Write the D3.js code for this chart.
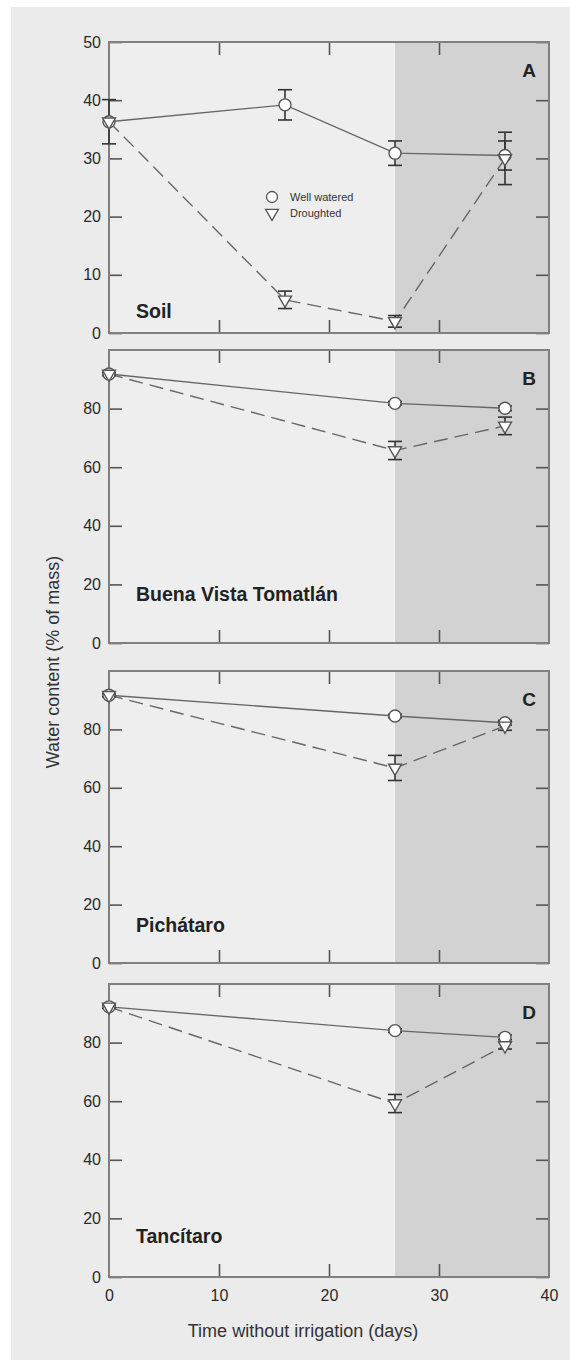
<!DOCTYPE html>
<html>
<head>
<meta charset="utf-8">
<script src="https://cdn.jsdelivr.net/npm/d3@7"></script>
<style>
  body { margin: 0; background: #fff; }
  svg { display: block; font-family: "Liberation Sans", Arial, sans-serif; }
</style>
</head>
<body>
<div id="chart"></div>
<script>
// data
const soilDays = [0, 16, 26, 36];
const soilWell = [36.3, 39.2, 30.9, 30.5];
const soilWellErr = [3.8, 2.6, 2.1, 2.5];
const soilDrought = [36.3, 5.7, 2.0, 30.0];
const soilDroughtErr = [0, 1.5, 1.0, 4.5];

const leafDays = [0, 26, 36];
const buenaWell = [91.8, 81.8, 80.1];
const buenaWellErr = [0.5, 0.6, 0.8];
const buenaDrought = [91.8, 65.7, 74.1];
const buenaDroughtErr = [0.5, 3.1, 3.0];

const pichWell = [91.7, 84.6, 82.3];
const pichWellErr = [0.5, 0.6, 0.8];
const pichDrought = [91.7, 66.8, 81.2];
const pichDroughtErr = [0.5, 4.3, 1.5];

const tancWell = [92.2, 84.1, 81.8];
const tancWellErr = [0.5, 0.6, 0.8];
const tancDrought = [92.2, 59.2, 79.0];
const tancDroughtErr = [0.5, 3.1, 1.2];

const panelNames = ["Soil", "Buena Vista Tomatlán", "Pichátaro", "Tancítaro"];
const panelLetters = ["A", "B", "C", "D"];
const seriesNames = ["Well watered", "Droughted"];
const xTicks = [0, 10, 20, 30, 40];
const soilTicks = [0, 10, 20, 30, 40, 50];
const leafTicks = [0, 20, 40, 60, 80];
const recoveryStart = 26;

const width = 570, height = 1360;
const left = 109, right = 549;

const panels = [
  {days: soilDays, well: soilWell, wellErr: soilWellErr, dr: soilDrought, drErr: soilDroughtErr,
   yMax: 50, ticks: soilTicks, top: 42, bottom: 333, nameY: 318},
  {days: leafDays, well: buenaWell, wellErr: buenaWellErr, dr: buenaDrought, drErr: buenaDroughtErr,
   yMax: 100, ticks: leafTicks, top: 350, bottom: 643, nameY: 601},
  {days: leafDays, well: pichWell, wellErr: pichWellErr, dr: pichDrought, drErr: pichDroughtErr,
   yMax: 100, ticks: leafTicks, top: 671, bottom: 963, nameY: 932},
  {days: leafDays, well: tancWell, wellErr: tancWellErr, dr: tancDrought, drErr: tancDroughtErr,
   yMax: 100, ticks: leafTicks, top: 984, bottom: 1277, nameY: 1243}
];

const svg = d3.select("#chart").append("svg")
  .attr("width", width)
  .attr("height", height);

svg.append("rect")
  .attr("x", 11).attr("y", 7)
  .attr("width", width - 11).attr("height", height - 7)
  .attr("fill", "#ebebeb");

const x = d3.scaleLinear().domain([0, 40]).range([left, right]);

const triangle = d3.symbol().type(d3.symbolTriangle).size(72);

function styleAxis(g){
  g.select(".domain").remove();
  g.selectAll(".tick line").attr("stroke", "#555").attr("stroke-width", 1.6);
  g.selectAll(".tick text").attr("fill", "#2a2a2a").style("font-size", "16px");
}

panels.forEach((p, i) => {
  const y = d3.scaleLinear().domain([0, p.yMax]).range([p.bottom, p.top]);
  const g = svg.append("g");

  g.append("rect")
    .attr("x", left).attr("y", p.top)
    .attr("width", right - left).attr("height", p.bottom - p.top)
    .attr("fill", "#eeeeee");
  g.append("rect")
    .attr("x", x(recoveryStart)).attr("y", p.top)
    .attr("width", x(40) - x(recoveryStart)).attr("height", p.bottom - p.top)
    .attr("fill", "#d2d2d2");

  g.append("g").attr("transform", `translate(${left},0)`)
    .call(d3.axisLeft(y).tickValues(p.ticks).tickSize(-13).tickSizeOuter(0).tickPadding(8))
    .call(styleAxis);
  g.append("g").attr("transform", `translate(${right},0)`)
    .call(d3.axisRight(y).tickValues(p.ticks).tickSize(-13).tickSizeOuter(0).tickFormat(""))
    .call(styleAxis);
  g.append("g").attr("transform", `translate(0,${p.top})`)
    .call(d3.axisTop(x).tickValues([10, 20, 30]).tickSize(-13).tickSizeOuter(0).tickFormat(""))
    .call(styleAxis);
  const bx = g.append("g").attr("transform", `translate(0,${p.bottom})`)
    .call(d3.axisBottom(x).tickValues(i === 3 ? xTicks : [10, 20, 30]).tickSize(-13).tickSizeOuter(0).tickPadding(13))
    .call(styleAxis);
  if (i !== 3) bx.selectAll(".tick text").remove();
  else bx.selectAll(".tick line").filter(d => d === 0 || d === 40).remove();

  g.append("rect")
    .attr("x", left).attr("y", p.top)
    .attr("width", right - left).attr("height", p.bottom - p.top)
    .attr("fill", "none").attr("stroke", "#808080").attr("stroke-width", 2);

  const wellPts = p.days.map((d, k) => ({d: d, v: p.well[k], e: p.wellErr[k]}));
  const drPts = p.days.map((d, k) => ({d: d, v: p.dr[k], e: p.drErr[k]}));

  const line = d3.line().x(d => x(d.d)).y(d => y(d.v));
  g.append("path").datum(drPts)
    .attr("d", line).attr("fill", "none")
    .attr("stroke", "#666").attr("stroke-width", 1.4)
    .attr("stroke-dasharray", "14,7");
  g.append("path").datum(wellPts)
    .attr("d", line).attr("fill", "none")
    .attr("stroke", "#666").attr("stroke-width", 1.4);

  const errPts = wellPts.concat(drPts).filter(d => d.e > 0);
  const eb = g.selectAll(".err").data(errPts).enter().append("g")
    .attr("stroke", "#333").attr("stroke-width", 1.6);
  eb.append("line")
    .attr("x1", d => x(d.d)).attr("x2", d => x(d.d))
    .attr("y1", d => y(d.v - d.e)).attr("y2", d => y(d.v + d.e));
  eb.append("line")
    .attr("x1", d => x(d.d) - 7).attr("x2", d => x(d.d) + 7)
    .attr("y1", d => y(d.v + d.e)).attr("y2", d => y(d.v + d.e));
  eb.append("line")
    .attr("x1", d => x(d.d) - 7).attr("x2", d => x(d.d) + 7)
    .attr("y1", d => y(d.v - d.e)).attr("y2", d => y(d.v - d.e));

  g.selectAll(".wc").data(wellPts).enter().append("circle")
    .attr("cx", d => x(d.d)).attr("cy", d => y(d.v)).attr("r", 6)
    .attr("fill", "#fff").attr("stroke", "#555").attr("stroke-width", 1.4);
  g.selectAll(".dt").data(drPts).enter().append("path")
    .attr("d", triangle)
    .attr("transform", d => `translate(${x(d.d)},${y(d.v)}) rotate(180)`)
    .attr("fill", "#fff").attr("stroke", "#555").attr("stroke-width", 1.4);

  g.append("text")
    .attr("x", right - 13).attr("y", p.top + 35)
    .attr("text-anchor", "end")
    .attr("font-weight", "bold").attr("font-size", 19).attr("fill", "#222")
    .text(panelLetters[i]);
  g.append("text")
    .attr("x", left + 27).attr("y", p.nameY)
    .attr("font-weight", "bold").attr("font-size", 19.5).attr("fill", "#222")
    .text(panelNames[i]);
});

// legend (panel A)
const legend = svg.append("g").attr("transform", "translate(272,197)");
legend.append("circle").attr("r", 5.5)
  .attr("fill", "#fff").attr("stroke", "#555").attr("stroke-width", 1.3);
legend.append("path").attr("d", triangle)
  .attr("transform", "translate(0,16) rotate(180)")
  .attr("fill", "#fff").attr("stroke", "#555").attr("stroke-width", 1.3);
legend.selectAll(".lt").data(seriesNames).enter().append("text")
  .attr("x", 18).attr("y", (d, k) => k * 16 + 4)
  .attr("font-size", 11).attr("fill", "#333")
  .text(d => d);

svg.append("text")
  .attr("x", 303).attr("y", 1337)
  .attr("text-anchor", "middle")
  .attr("font-size", 18).attr("fill", "#333")
  .text("Time without irrigation (days)");

svg.append("text")
  .attr("transform", "translate(59,662) rotate(-90)")
  .attr("text-anchor", "middle")
  .attr("font-size", 18).attr("fill", "#333")
  .text("Water content (% of mass)");
</script>
</body>
</html>
